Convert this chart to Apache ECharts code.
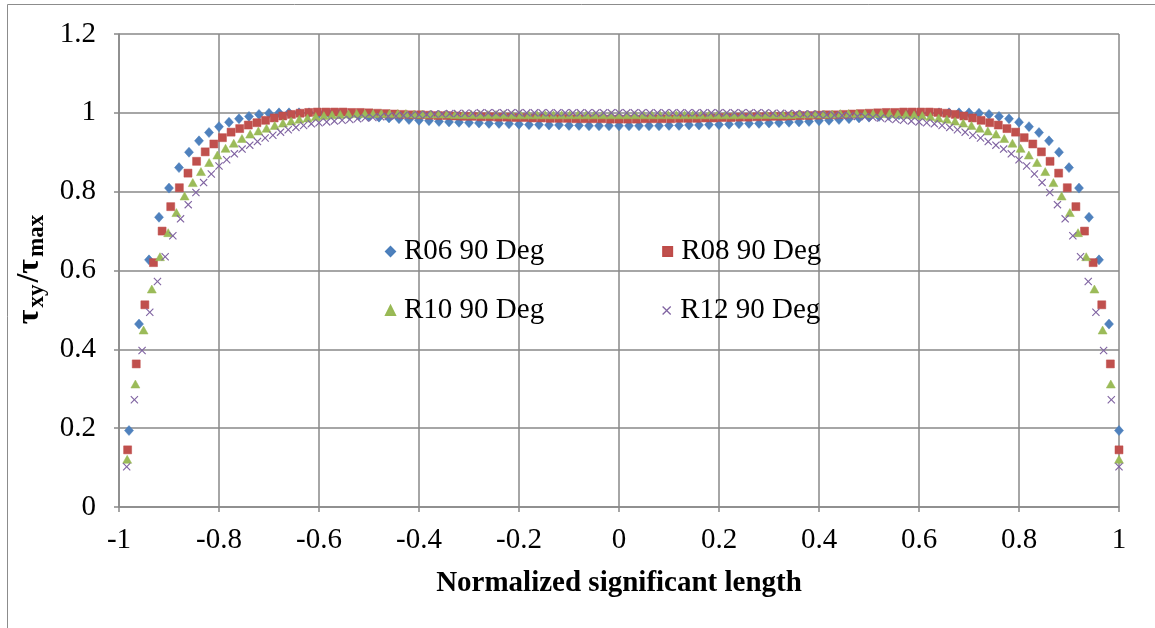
<!DOCTYPE html>
<html>
<head>
<meta charset="utf-8">
<script src="https://cdn.jsdelivr.net/npm/echarts@6/dist/echarts.min.js"></script>
<style>
  html, body { margin: 0; padding: 0; background: #fff; }
  #chart { width: 1155px; height: 628px; }
</style>
</head>
<body>
<div id="chart"></div>
<script>
// series names as in the legend
const names = ["R06 90 Deg", "R08 90 Deg", "R10 90 Deg", "R12 90 Deg"];

// tau_xy / tau_max, left to right
const r06 = [
  0.194, 0.464, 0.627, 0.735, 0.809, 0.861, 0.900, 0.929, 0.950, 0.965,
  0.976, 0.985, 0.991, 0.996, 0.999, 1.000, 1.000, 1.000, 1.000, 0.999,
  0.998, 0.997, 0.995, 0.993, 0.991, 0.989, 0.987, 0.985, 0.983, 0.981,
  0.980, 0.978, 0.977, 0.976, 0.975, 0.974, 0.973, 0.973, 0.972, 0.971,
  0.970, 0.970, 0.969, 0.969, 0.968, 0.968, 0.967, 0.967, 0.967, 0.967,
  0.967, 0.967, 0.967, 0.967, 0.968, 0.968, 0.969, 0.969, 0.970, 0.970,
  0.971, 0.972, 0.973, 0.973, 0.974, 0.975, 0.976, 0.977, 0.978, 0.980,
  0.981, 0.983, 0.985, 0.987, 0.989, 0.991, 0.993, 0.995, 0.997, 0.998,
  0.999, 1.000, 1.000, 1.000, 1.000, 0.999, 0.996, 0.991, 0.985, 0.976,
  0.965, 0.950, 0.929, 0.900, 0.861, 0.809, 0.735, 0.627, 0.464, 0.194
];
const r08 = [
  0.145, 0.363, 0.513, 0.620, 0.700, 0.762, 0.810, 0.847, 0.877, 0.901,
  0.921, 0.937, 0.951, 0.960, 0.969, 0.975, 0.981, 0.987, 0.992, 0.996,
  0.999, 1.001, 1.002, 1.002, 1.002, 1.002, 1.001, 1.001, 1.000, 0.999,
  0.998, 0.997, 0.996, 0.995, 0.995, 0.994, 0.993, 0.993, 0.992, 0.991,
  0.991, 0.990, 0.990, 0.989, 0.989, 0.988, 0.988, 0.987, 0.987, 0.986,
  0.986, 0.986, 0.985, 0.985, 0.985, 0.985, 0.984, 0.984,
  0.984, 0.984, 0.985, 0.985, 0.985, 0.985, 0.986, 0.986,
  0.986, 0.987, 0.987, 0.988, 0.988, 0.989, 0.989, 0.990, 0.990, 0.991,
  0.991, 0.992, 0.993, 0.993, 0.994, 0.995, 0.995, 0.996, 0.997, 0.998,
  0.999, 1.000, 1.001, 1.001, 1.002, 1.002, 1.002, 1.002, 1.001, 0.999,
  0.996, 0.992, 0.987, 0.981, 0.975, 0.969, 0.960, 0.951, 0.937, 0.921,
  0.901, 0.877, 0.847, 0.810, 0.762, 0.700, 0.620, 0.513, 0.363, 0.145
];
const r10 = [
  0.121, 0.312, 0.449, 0.553, 0.635, 0.696, 0.747, 0.789, 0.823, 0.851,
  0.874, 0.893, 0.910, 0.923, 0.935, 0.946, 0.954, 0.961, 0.968, 0.974,
  0.979, 0.984, 0.987, 0.991, 0.993, 0.995, 0.996, 0.997, 0.998, 0.998,
  0.998, 0.998, 0.998, 0.998, 0.998, 0.997, 0.997, 0.997, 0.997, 0.997,
  0.996, 0.996, 0.996, 0.996, 0.996, 0.996, 0.996, 0.995, 0.995, 0.995,
  0.995, 0.995, 0.995, 0.995, 0.995, 0.995, 0.995, 0.995, 0.995, 0.995,
  0.995,
  0.995, 0.995, 0.995, 0.995, 0.995, 0.995, 0.995, 0.995, 0.995, 0.995,
  0.995, 0.995, 0.995, 0.995, 0.996, 0.996, 0.996, 0.996, 0.996, 0.996,
  0.996, 0.997, 0.997, 0.997, 0.997, 0.997, 0.998, 0.998, 0.998, 0.998,
  0.998, 0.998, 0.998, 0.997, 0.996, 0.995, 0.993, 0.991, 0.987, 0.984,
  0.979, 0.974, 0.968, 0.961, 0.954, 0.946, 0.935, 0.923, 0.910, 0.893,
  0.874, 0.851, 0.823, 0.789, 0.747, 0.696, 0.635, 0.553, 0.449, 0.312,
  0.121
];
const r12 = [
  0.102, 0.272, 0.397, 0.494, 0.572, 0.635, 0.688, 0.731, 0.767, 0.798,
  0.823, 0.845, 0.865, 0.881, 0.896, 0.908, 0.918, 0.927, 0.936, 0.943,
  0.951, 0.957, 0.963, 0.968, 0.972, 0.975, 0.977, 0.979, 0.981, 0.983,
  0.985, 0.987, 0.988, 0.990, 0.991, 0.992, 0.993, 0.994, 0.995, 0.996,
  0.997, 0.997, 0.998, 0.998, 0.999, 0.999, 1.000, 1.000, 1.000, 1.000,
  1.000, 1.000, 1.000, 1.000, 1.000, 1.000, 1.000, 1.000, 1.000, 1.000,
  1.000, 1.000, 1.000, 1.000, 1.000,
  1.000, 1.000, 1.000, 1.000, 1.000, 1.000, 1.000, 1.000, 1.000, 1.000,
  1.000, 1.000, 1.000, 1.000, 1.000, 1.000, 1.000, 1.000, 1.000, 0.999,
  0.999, 0.998, 0.998, 0.997, 0.997, 0.996, 0.995, 0.994, 0.993, 0.992,
  0.991, 0.990, 0.988, 0.987, 0.985, 0.983, 0.981, 0.979, 0.977, 0.975,
  0.972, 0.968, 0.963, 0.957, 0.951, 0.943, 0.936, 0.927, 0.918, 0.908,
  0.896, 0.881, 0.865, 0.845, 0.823, 0.798, 0.767, 0.731, 0.688, 0.635,
  0.572, 0.494, 0.397, 0.272, 0.102
];

// each run is sampled evenly over (-1, 1], last sample at 1
function toPoints(vals) {
  const step = 2 / vals.length;
  return vals.map((v, i) => [-1 + (i + 1) * step, v]);
}

const serif = "Liberation Serif";
const gridColor = "#898989";
const crossIcon = "path://M0,1 L1,0 L5,4 L9,0 L10,1 L6,5 L10,9 L9,10 L5,6 L1,10 L0,9 L4,5 Z";
const legendText = { fontFamily: serif, fontSize: 29, color: "#000", padding: [0, 0, 0, 4] };

const chart = echarts.init(document.getElementById("chart"));
chart.setOption({
  animation: false,
  backgroundColor: "#fff",
  grid: { left: 119, right: 36, top: 34, bottom: 121 },
  graphic: [
    { type: "line", shape: { x1: 7.5, y1: 4.5, x2: 1155, y2: 4.5 }, style: { stroke: "#8c8c8c", lineWidth: 1 } },
    { type: "line", shape: { x1: 7.5, y1: 4.5, x2: 7.5, y2: 628 }, style: { stroke: "#8c8c8c", lineWidth: 1 } }
  ],
  legend: [
    {
      data: [{ name: names[0], icon: "diamond" }, { name: names[1], icon: "rect" }],
      left: 385, top: 237, padding: 0, itemGap: 118, itemWidth: 9, itemHeight: 9,
      textStyle: legendText
    },
    {
      data: [{ name: names[2], icon: "triangle" }, { name: names[3], icon: crossIcon }],
      left: 385, top: 296, padding: 0, itemGap: 118, itemWidth: 9, itemHeight: 9,
      textStyle: legendText
    }
  ],
  xAxis: {
    type: "value",
    min: -1, max: 1, interval: 0.2,
    name: "Normalized significant length",
    nameLocation: "middle",
    nameGap: 62,
    nameTextStyle: { fontFamily: serif, fontWeight: "bold", fontSize: 29, color: "#000" },
    axisLine: { onZero: false, lineStyle: { color: gridColor, width: 1.5 } },
    axisTick: { show: true, length: 5, lineStyle: { color: gridColor, width: 1.5 } },
    axisLabel: { fontFamily: serif, fontSize: 29, color: "#000", margin: 19 },
    splitLine: { show: true, lineStyle: { color: gridColor, width: 1.5 } }
  },
  yAxis: {
    type: "value",
    min: 0, max: 1.2, interval: 0.2,
    name: "{a|τ}{b|xy}{a|/τ}{b|max}",
    nameLocation: "middle",
    nameRotate: 90,
    nameGap: 63,
    nameTextStyle: {
      rich: {
        a: { fontFamily: serif, fontWeight: "bold", fontSize: 32, color: "#000", lineHeight: 38, padding: [0, 2, 0, 2] },
        b: { fontFamily: serif, fontWeight: "bold", fontSize: 23, color: "#000", lineHeight: 23, verticalAlign: "bottom" }
      }
    },
    axisLine: { show: true, onZero: false, lineStyle: { color: gridColor, width: 1.5 } },
    axisTick: { show: true, length: 5, lineStyle: { color: gridColor, width: 1.5 } },
    axisLabel: { fontFamily: serif, fontSize: 29, color: "#000", margin: 23 },
    splitLine: { show: true, lineStyle: { color: gridColor, width: 1.5 } }
  },
  series: [
    {
      name: names[0], type: "scatter", symbol: "diamond", symbolSize: [9, 10],
      itemStyle: { color: "#4F81BD", borderColor: "#4A7EBB", borderWidth: 0.5, opacity: 1 },
      data: toPoints(r06)
    },
    {
      name: names[1], type: "scatter", symbol: "rect", symbolSize: 8,
      itemStyle: { color: "#C0504D", borderColor: "#BE4B48", borderWidth: 0.5, opacity: 1 },
      data: toPoints(r08)
    },
    {
      name: names[2], type: "scatter", symbol: "triangle", symbolSize: [9, 8],
      itemStyle: { color: "#9BBB59", borderColor: "#98B954", borderWidth: 0.5, opacity: 1 },
      data: toPoints(r10)
    },
    {
      name: names[3], type: "scatter", symbol: crossIcon, symbolSize: 8,
      itemStyle: { color: "#8064A2", opacity: 1 },
      data: toPoints(r12)
    }
  ]
});
</script>
</body>
</html>
